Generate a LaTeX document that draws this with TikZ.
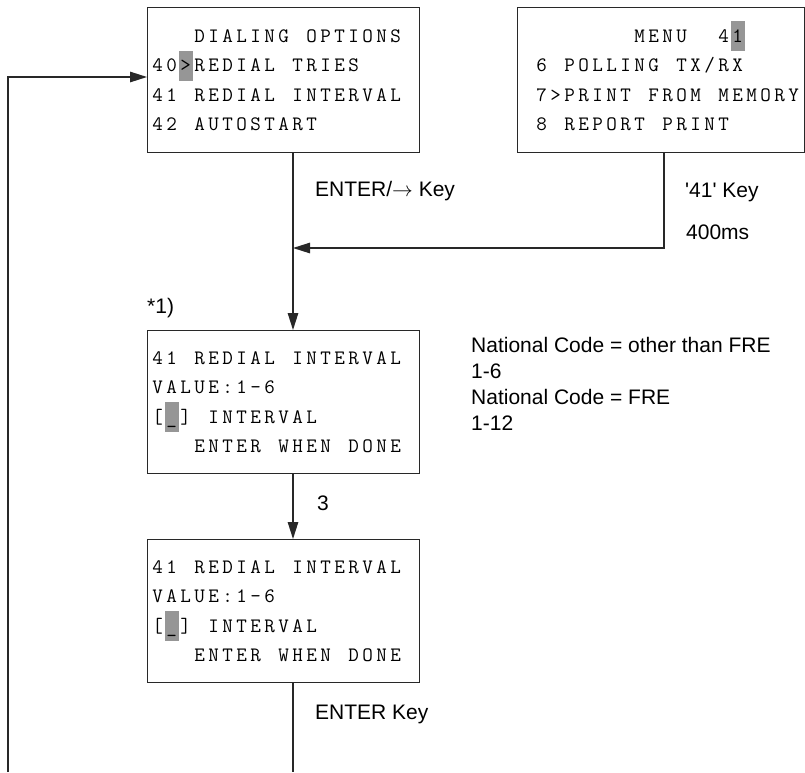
\documentclass[tikz,border=0pt]{standalone}
\usepackage{fontspec}
\setsansfont{Liberation Sans}
\usepackage{xcolor}
\usetikzlibrary{arrows.meta,positioning}

\definecolor{hlgray}{RGB}{150,150,150}
\definecolor{linegray}{RGB}{40,40,40}

% fixed pitch cells for the display lines
\ExplSyntaxOn
\dim_new:N \l_lcd_pitch_dim
\dim_set:Nn \l_lcd_pitch_dim { 14pt }
\NewDocumentCommand \lcd { m }
  {
    \mbox { \tl_map_inline:nn {#1} { \hbox_to_wd:nn { \l_lcd_pitch_dim } { \hfil ##1 \hfil } } }
  }
\ExplSyntaxOff
\newcommand\hl[1]{\makebox[0pt]{\smash{\textcolor{hlgray}{\rule[-9pt]{14pt}{30pt}}}}\makebox[0pt]{#1}}

\begin{document}
\begin{tikzpicture}[x=1pt, y=-1pt, >={Triangle[length=17pt,width=10.5pt]},
  lcdbox/.style={draw=linegray, line width=1.3pt, inner xsep=3pt, inner ysep=0pt,
    text width=#1, align=left, minimum height=143pt,
    font=\ttfamily\fontsize{20.5}{29.3}\selectfont},
  lbl/.style={font=\sffamily\fontsize{21}{26}\selectfont, inner sep=0pt, anchor=base west},
  flow/.style={draw=linegray, line width=1.3pt}]
  \useasboundingbox (0,0) rectangle (805,772);

  % screens
  \node[lcdbox=266pt, minimum height=145pt, anchor=north west] (dialopt) at (147,7)
    {\lcd{~~~DIALING~OPTIONS}\\ \lcd{40{\hl{>}}REDIAL~TRIES}\\
     \lcd{41~REDIAL~INTERVAL}\\ \lcd{42~AUTOSTART}};
  \node[lcdbox=281pt, minimum height=145pt, anchor=north west] (menu) at (517,7)
    {\lcd{~~~~~~~~MENU~~4{\hl{1}}}\\ \lcd{~6~POLLING~TX/RX}\\
     \lcd{~7>PRINT~FROM~MEMORY}\\ \lcd{~8~REPORT~PRINT}};
  \node[lcdbox=266pt, anchor=north west] (intv) at (147,330)
    {\lcd{41~REDIAL~INTERVAL}\\ \lcd{VALUE:1-6}\\
     \lcd{[{\hl{\_}}]~INTERVAL}\\ \lcd{~~~ENTER~WHEN~DONE}};
  \node[lcdbox=266pt, anchor=north west] (intvset) at (147,539)
    {\lcd{41~REDIAL~INTERVAL}\\ \lcd{VALUE:1-6}\\
     \lcd{[{\hl{\_}}]~INTERVAL}\\ \lcd{~~~ENTER~WHEN~DONE}};

  % flow lines
  \coordinate (jn) at (293,248);
  \coordinate (mt) at (664,248);
  \coordinate (btm) at (293,772);
  \coordinate (lpb) at (8,772);
  \coordinate (lpt) at (8,77);
  \draw[flow, ->] (dialopt.south -| jn) -- (intv.north -| jn);
  \draw[flow, ->] (menu.south -| mt) -- (mt) -- (jn);
  \draw[flow, ->] (intv.south -| jn) -- (intvset.north -| jn);
  \draw[flow] (intvset.south -| jn) -- (btm);
  \draw[flow, ->] (lpb) -- (lpt) -- (lpt -| dialopt.west);

  % labels
  \node[lbl] (enterkey) at (315,196.5) {ENTER/$\rightarrow$ Key};
  \node[lbl] (key41) at (685,197.5) {\textquotesingle 41\textquotesingle{} Key};
  \node[lbl] (delay) at (686,239.5) {400ms};
  \node[lbl] (note) at (147,313) {*1)};
  \node[lbl] (digit) at (317,510) {3};
  \node[lbl] (enter) at (315,719.5) {ENTER Key};
  \foreach \t [count=\i] in {National Code = other than FRE, 1-6, National Code = FRE, 1-12}
    \node[lbl] (nc\i) at (471,352+26*\i-26) {\t};
\end{tikzpicture}
\end{document}
